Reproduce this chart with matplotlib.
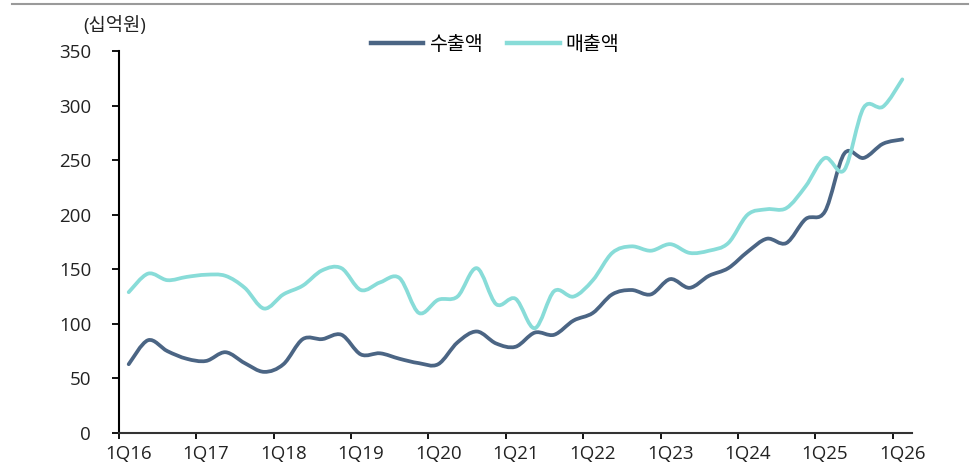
import matplotlib
matplotlib.use("Agg")
import matplotlib.pyplot as plt
from matplotlib.path import Path
from matplotlib.patches import PathPatch
from matplotlib.lines import Line2D
import numpy as np

plt.rcParams['font.family'] = ['Open Sans', 'Noto Sans CJK KR', 'DejaVu Sans']

# ---- data ----
quarters = [f"{q}Q{y}" for y in range(16, 27) for q in range(1, 5)][:41]
tick_labels = ["1Q16", "1Q17", "1Q18", "1Q19", "1Q20", "1Q21",
               "1Q22", "1Q23", "1Q24", "1Q25", "1Q26"]
export_vals = [63, 85, 75, 68, 66, 74, 64, 56, 63, 86,
               86, 90, 72, 73, 68, 64, 63, 83, 93, 82,
               79, 92, 90, 103, 110, 127, 131, 127, 141, 133,
               144, 151, 166, 178, 174, 196, 203, 256, 252, 265,
               269]
sales_vals = [129, 146, 140, 143, 145, 144, 133, 114, 127, 135,
              149, 151, 131, 138, 142, 110, 122, 125, 151, 118,
              123, 96, 130, 125, 140, 165, 171, 167, 173, 165,
              167, 174, 200, 205, 206, 226, 252, 241, 298, 299,
              324]
series_names = ["수출액", "매출액"]
colors = ["#4B6584", "#88DCD8"]
unit_label = "(십억원)"


def smooth_path(xs, ys):
    pts = np.column_stack([xs, ys]).astype(float)
    n = len(pts)
    verts = [pts[0]]
    codes = [Path.MOVETO]
    for i in range(n - 1):
        p0 = pts[i - 1] if i > 0 else pts[i]
        p1 = pts[i]
        p2 = pts[i + 1]
        p3 = pts[i + 2] if i + 2 < n else pts[i + 1]
        c1 = p1 + (p2 - p0) / 6.0
        c2 = p2 - (p3 - p1) / 6.0
        verts += [c1, c2, p2]
        codes += [Path.CURVE4] * 3
    return Path(verts, codes)


fig = plt.figure(figsize=(9.78, 4.73), dpi=100)
ax = fig.add_axes([0.1217, 0.0846, 0.8108, 0.8076])

x = np.arange(len(quarters))
for vals, col in zip([export_vals, sales_vals], colors):
    patch = PathPatch(smooth_path(x, vals), facecolor='none', edgecolor=col,
                      lw=2.7, capstyle='round', joinstyle='round')
    ax.add_patch(patch)

ax.set_xlim(-0.5, len(quarters) - 0.5)
ax.set_ylim(0, 350)
ax.set_yticks(range(0, 351, 50))

# major ticks at category boundaries, labels at category centres
ax.set_xticks(np.arange(-0.5, len(quarters), 4))
ax.set_xticklabels([])
ax.set_xticks(np.arange(0, len(quarters), 4), minor=True)
ax.set_xticklabels(tick_labels, minor=True)
ax.tick_params(axis='x', which='major', direction='out', length=4, width=1.3, color='black')
ax.tick_params(axis='x', which='minor', length=0, pad=9, labelsize=13.5, labelcolor='#222222')
ax.tick_params(axis='y', direction='out', length=5, width=1.3, pad=15,
               labelsize=13.5, labelcolor='#222222')

for s in ['top', 'right']:
    ax.spines[s].set_visible(False)
ax.spines['left'].set_linewidth(1.5)
ax.spines['left'].set_color('black')
ax.spines['bottom'].set_linewidth(1.5)
ax.spines['bottom'].set_color('#333333')

fig.text(0.1176, 0.947, unit_label, ha='center', va='center', fontsize=13.5, color='#222222')

handles = [Line2D([], [], color=c, lw=3.2) for c in colors]
fig.legend(handles, series_names, loc='center', bbox_to_anchor=(0.506, 0.905), ncol=2,
           frameon=False, fontsize=14, handlelength=2.7, handletextpad=0.3,
           columnspacing=1.25)

fig.add_artist(Line2D([0.012, 0.99], [1 - 4 / 473, 1 - 4 / 473],
                      transform=fig.transFigure, color='#9a9a9a', lw=1.5))

fig.savefig("out.png", dpi=100)
